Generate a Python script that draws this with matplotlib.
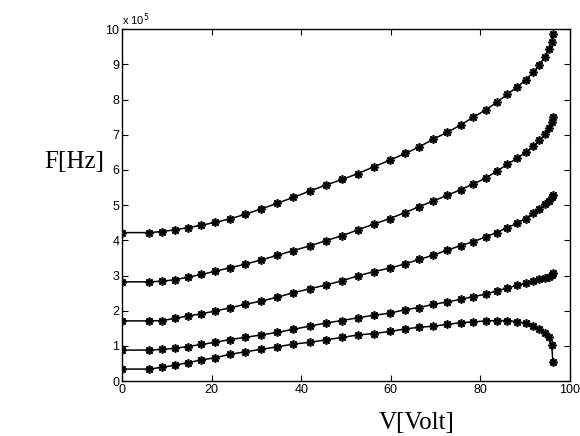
import numpy as np
import matplotlib
matplotlib.use("Agg")
import matplotlib.pyplot as plt

# bias voltage samples (V), shared by every curve
volts = [0, 6, 9, 11.8, 14.7, 17.7, 20.8, 24.1, 27.5, 31, 34.6, 38.2, 41.9,
         45.5, 49.1, 52.7, 56.2, 59.8, 63.2, 66.4, 69.5, 72.6, 75.6, 78.4,
         81.2, 83.6, 86, 88.1, 90.1, 91.8, 93.1, 94.4, 95.3, 95.9, 96.2]

# resonance frequencies in units of 1e5 Hz
f_mode1 = [4.22, 4.22, 4.25, 4.30, 4.36, 4.43, 4.51, 4.61, 4.74, 4.89, 5.05,
           5.22, 5.40, 5.57, 5.73, 5.90, 6.09, 6.28, 6.47, 6.66, 6.88, 7.07,
           7.28, 7.50, 7.71, 7.92, 8.15, 8.35, 8.56, 8.78, 8.98, 9.22, 9.43,
           9.65, 9.87]
f_mode2 = [2.82, 2.82, 2.84, 2.88, 2.95, 3.03, 3.12, 3.22, 3.32, 3.44, 3.57,
           3.71, 3.84, 3.99, 4.13, 4.30, 4.46, 4.62, 4.79, 4.96, 5.12, 5.28,
           5.44, 5.60, 5.77, 5.96, 6.16, 6.33, 6.50, 6.68, 6.84, 7.01, 7.20,
           7.37, 7.52]
f_mode3 = [1.71, 1.71, 1.72, 1.78, 1.85, 1.91, 1.99, 2.08, 2.18, 2.27, 2.38,
           2.51, 2.62, 2.73, 2.85, 2.99, 3.11, 3.21, 3.33, 3.46, 3.58, 3.72,
           3.85, 3.96, 4.10, 4.22, 4.36, 4.48, 4.62, 4.77, 4.90, 5.02, 5.12,
           5.22, 5.30]
f_mode4 = [0.88, 0.88, 0.90, 0.93, 0.98, 1.04, 1.10, 1.18, 1.24, 1.31, 1.38,
           1.47, 1.56, 1.65, 1.72, 1.80, 1.87, 1.93, 2.03, 2.09, 2.18, 2.25,
           2.32, 2.40, 2.47, 2.56, 2.64, 2.72, 2.78, 2.84, 2.89, 2.93, 2.97,
           3.01, 3.06]
f_mode5 = [0.34, 0.34, 0.39, 0.45, 0.52, 0.60, 0.66, 0.76, 0.83, 0.90, 0.97,
           1.05, 1.10, 1.17, 1.24, 1.31, 1.35, 1.41, 1.48, 1.53, 1.56, 1.61,
           1.66, 1.68, 1.71, 1.72, 1.72, 1.69, 1.64, 1.56, 1.47, 1.37, 1.26,
           1.02, 0.53]

plt.rcParams['font.family'] = ['Liberation Sans', 'DejaVu Sans']

fig = plt.figure(figsize=(5.8, 4.36), dpi=100)
ax = fig.add_axes([0.2103, 0.1261, 0.7725, 0.8067])

for f in [f_mode1, f_mode2, f_mode3, f_mode4, f_mode5]:
    ax.plot(volts, f, color='black', lw=1.1, marker=(8, 2, 0),
            markersize=6, markeredgewidth=1.2)

ax.set_xlim(0, 100)
ax.set_ylim(0, 10)
ax.set_xticks(np.arange(0, 101, 20))
ax.set_yticks(np.arange(0, 11, 1))
ax.tick_params(direction='in', length=4, width=0.8, labelsize=9,
               top=True, right=True, pad=2)
for s in ax.spines.values():
    s.set_linewidth(1.0)

# exponent marker above the y axis
ax.text(0.0, 1.005, r'x 10$^5$', transform=ax.transAxes, fontsize=8,
        ha='left', va='bottom')

serif = ['Liberation Serif', 'DejaVu Serif']
fig.text(74 / 580, 1 - 162 / 436, 'F[Hz]', family=serif, fontsize=18,
         ha='center', va='center')
fig.text(417 / 580, 1 - 423 / 436, 'V[Volt]', family=serif, fontsize=18,
         ha='center', va='center')

fig.savefig('out.png', dpi=100)
